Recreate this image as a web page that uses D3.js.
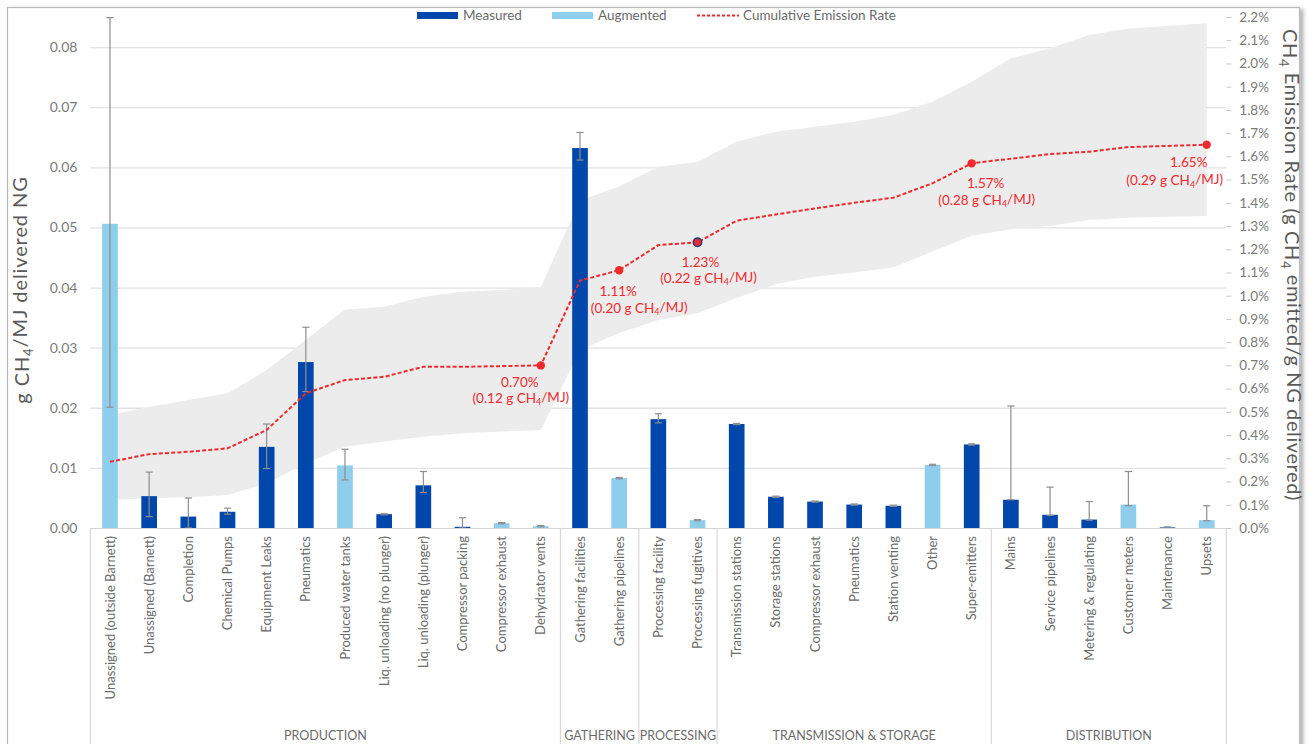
<!DOCTYPE html>
<html>
<head>
<meta charset="utf-8">
<script src="https://cdn.jsdelivr.net/npm/d3@7"></script>
<style>
  body { margin: 0; background: #ffffff; }
  svg text { font-family: Lato, "Open Sans", "DejaVu Sans", sans-serif; }
</style>
</head>
<body>
<svg id="chart" width="1309" height="744"></svg>
<script>
// ---- Data -------------------------------------------------------------
const categories = [
  "Unassigned (outside Barnett)", "Unassigned (Barnett)", "Completion", "Chemical Pumps",
  "Equipment Leaks", "Pneumatics", "Produced water tanks", "Liq. unloading (no plunger)",
  "Liq. unloading (plunger)", "Compressor packing", "Compressor exhaust", "Dehydrator vents",
  "Gathering facilities", "Gathering pipelines",
  "Processing facility", "Processing fugitives",
  "Transmission stations", "Storage stations", "Compressor exhaust", "Pneumatics",
  "Station venting", "Other", "Super-emitters",
  "Mains", "Service pipelines", "Metering & regulating", "Customer meters", "Maintenance", "Upsets"
];

const groupNames  = ["PRODUCTION", "GATHERING", "PROCESSING", "TRANSMISSION & STORAGE", "DISTRIBUTION"];
const groupSizes  = [12, 2, 2, 7, 6];

// M = measured, A = augmented
const source = [
  "A","M","M","M","M","M","A","M","M","M","A","A",
  "M","A",
  "M","A",
  "M","M","M","M","M","A","M",
  "M","M","M","A","M","A"
];

// g CH4 / MJ delivered NG
const emission = [
  0.0506, 0.0053, 0.0019, 0.0027, 0.0135, 0.0276, 0.0104, 0.0023, 0.0071, 0.0002, 0.0008, 0.0003,
  0.0632, 0.0083,
  0.0181, 0.0013,
  0.0173, 0.0052, 0.0044, 0.0039, 0.0037, 0.0105, 0.0139,
  0.0047, 0.0022, 0.0014, 0.0039, 0.0001, 0.0013
];
const emissionLow = [
  0.0201, 0.0019, 0.0000, 0.0023, 0.0099, 0.0227, 0.0080, 0.0022, 0.0059, 0.0000, 0.0007, 0.0002,
  0.0612, 0.0082,
  0.0175, 0.0012,
  0.0172, 0.0051, 0.0043, 0.0038, 0.0036, 0.0104, 0.0138,
  0.0047, 0.0021, 0.0013, 0.0037, 0.0000, 0.0012
];
const emissionHigh = [
  0.0849, 0.0093, 0.0050, 0.0033, 0.0173, 0.0334, 0.0131, 0.0024, 0.0094, 0.0017, 0.0009, 0.0004,
  0.0658, 0.0084,
  0.0190, 0.0014,
  0.0174, 0.0053, 0.0045, 0.0040, 0.0038, 0.0106, 0.0140,
  0.0203, 0.0068, 0.0044, 0.0094, 0.0002, 0.0037
];

// Cumulative emission rate, % of delivered NG
const cumulativeRate = [
  0.285, 0.318, 0.328, 0.343, 0.422, 0.58, 0.637, 0.651, 0.694, 0.694, 0.697, 0.70,
  1.065, 1.11,
  1.218, 1.23,
  1.323, 1.35, 1.376, 1.40, 1.422, 1.484, 1.57,
  1.59, 1.61, 1.62, 1.64, 1.645, 1.65
];
const rateLow = [
  0.121, 0.128, 0.132, 0.142, 0.192, 0.279, 0.35, 0.372, 0.393, 0.408, 0.415, 0.422,
  0.766, 0.839,
  0.895, 0.925,
  0.99, 1.05, 1.082, 1.10, 1.122, 1.19, 1.258,
  1.286, 1.301, 1.326, 1.336, 1.34, 1.343
];
const rateHigh = [
  0.486, 0.522, 0.551, 0.58, 0.68, 0.81, 0.941, 0.953, 0.996, 1.017, 1.025, 1.039,
  1.41, 1.47,
  1.555, 1.577,
  1.663, 1.706, 1.728, 1.749, 1.778, 1.835, 1.921,
  2.022, 2.065, 2.122, 2.151, 2.161, 2.173
];

// Labelled points on the cumulative curve
const calloutIndex = [11, 13, 15, 22, 28];
const calloutPct   = ["0.70%", "1.11%", "1.23%", "1.57%", "1.65%"];
const calloutGrams = ["0.12", "0.20", "0.22", "0.28", "0.29"];

const leftTicks  = [0.00, 0.01, 0.02, 0.03, 0.04, 0.05, 0.06, 0.07, 0.08];
const rightTicks = [0.0, 0.1, 0.2, 0.3, 0.4, 0.5, 0.6, 0.7, 0.8, 0.9, 1.0, 1.1,
                    1.2, 1.3, 1.4, 1.5, 1.6, 1.7, 1.8, 1.9, 2.0, 2.1, 2.2];

const legendItems = ["Measured", "Augmented", "Cumulative Emission Rate"];

// ---- Layout & style ---------------------------------------------------
const plot = { left: 90.4, right: 1226.3, top: 17, bottom: 528 };
const colors = {
  M: "#0047ab", A: "#8fcdec", line: "#ee2a2e", band: "#ececec",
  grid: "#e2e2e2", axis: "#d5d5d5", text: "#7a7a7a", title: "#5a5a5a", err: "#8e8e8e"
};
// label offsets (line 1, line 2) from each labelled point
const calloutOffsets = [
  [[-21, 17], [-20, 33]],
  [[-1, 21], [20, 38]],
  [[3, 20], [11, 36]],
  [[14, 20], [15, 37]],
  [[-18, 18], [-32, 36]]
];

const svg = d3.select("#chart");
const idx = d3.range(categories.length);

const x = d3.scaleBand().domain(idx).range([plot.left, plot.right])
  .paddingInner(0.6).paddingOuter(0.3);
const cx = i => x(i) + x.bandwidth() / 2;
const step = x.step();

const yL = d3.scaleLinear().domain([0, 0.085]).range([plot.bottom, plot.top]);
const yR = d3.scaleLinear().domain([0, 2.2]).range([plot.bottom, plot.top]);

// Outer frame with a soft shadow
const defs = svg.append("defs");
const sh = defs.append("filter").attr("id", "shadow").attr("x", "-5%").attr("y", "-5%")
  .attr("width", "110%").attr("height", "110%");
sh.append("feGaussianBlur").attr("in", "SourceAlpha").attr("stdDeviation", 2);
sh.append("feOffset").attr("dx", 3).attr("dy", 2).attr("result", "ob");
sh.append("feComponentTransfer").append("feFuncA").attr("type", "linear").attr("slope", 0.35);
const mg = sh.append("feMerge");
mg.append("feMergeNode");
mg.append("feMergeNode").attr("in", "SourceGraphic");

svg.append("rect")
  .attr("x", 7.5).attr("y", 7.5).attr("width", 1292).attr("height", 800)
  .attr("fill", "#ffffff").attr("stroke", "#b9b9b9").attr("stroke-width", 1.2)
  .attr("filter", "url(#shadow)");

// Gridlines (left axis)
svg.append("g")
  .attr("transform", `translate(${plot.left},0)`)
  .call(d3.axisLeft(yL).tickValues(leftTicks.slice(1)).tickSize(-(plot.right - plot.left)).tickFormat(""))
  .call(g => g.select(".domain").remove())
  .call(g => g.selectAll("line").attr("stroke", colors.grid).attr("stroke-width", 1.3));

// Uncertainty band of the cumulative rate
const band = d3.area()
  .x((d, i) => cx(i))
  .y0((d, i) => yR(rateLow[i]))
  .y1((d, i) => yR(rateHigh[i]));
svg.append("path").datum(idx).attr("d", band).attr("fill", colors.band);

// Bars
svg.append("g").selectAll("rect").data(idx).join("rect")
  .attr("x", i => x(i))
  .attr("width", x.bandwidth())
  .attr("y", i => yL(emission[i]))
  .attr("height", i => yL(0) - yL(emission[i]))
  .attr("fill", i => colors[source[i]]);

// Error bars
const eg = svg.append("g").attr("stroke", colors.err).attr("stroke-width", 1.2);
idx.forEach(i => {
  const c = cx(i), cap = 3.6;
  eg.append("line").attr("x1", c).attr("x2", c)
    .attr("y1", yL(emissionLow[i])).attr("y2", yL(emissionHigh[i]));
  eg.append("line").attr("x1", c - cap).attr("x2", c + cap)
    .attr("y1", yL(emissionHigh[i])).attr("y2", yL(emissionHigh[i]));
  eg.append("line").attr("x1", c - cap).attr("x2", c + cap)
    .attr("y1", yL(emissionLow[i])).attr("y2", yL(emissionLow[i]));
});

// Category axis line
svg.append("line")
  .attr("x1", plot.left).attr("x2", plot.right)
  .attr("y1", plot.bottom + 0.5).attr("y2", plot.bottom + 0.5)
  .attr("stroke", colors.axis).attr("stroke-width", 1.2);

// Left axis labels
svg.append("g")
  .attr("transform", `translate(${plot.left},0)`)
  .call(d3.axisLeft(yL).tickValues(leftTicks).tickSize(0).tickPadding(13).tickFormat(d3.format(".2f")))
  .call(g => g.select(".domain").remove())
  .call(g => g.selectAll("text").attr("fill", colors.text).style("font-size", "14px")
    .style("font-family", "Lato, 'Open Sans', sans-serif"));

// Right axis
svg.append("g")
  .attr("transform", `translate(${plot.right},0)`)
  .call(d3.axisRight(yR).tickValues(rightTicks).tickSize(5).tickPadding(8)
    .tickFormat(d => d.toFixed(1) + "%"))
  .call(g => g.select(".domain").remove())
  .call(g => g.selectAll("line").attr("stroke", "#c6c6c6"))
  .call(g => g.selectAll("text").attr("fill", colors.text).style("font-size", "13.5px")
    .style("font-family", "Lato, 'Open Sans', sans-serif"));

// Category labels
svg.append("g").selectAll("text").data(idx).join("text")
  .attr("transform", i => `translate(${cx(i)},${plot.bottom + 8}) rotate(-90)`)
  .attr("dy", "0.35em")
  .attr("text-anchor", "end")
  .attr("fill", "#6a6a6a")
  .style("font-size", "13px")
  .text(i => categories[i]);

// Group separators and names
const bounds = [0, ...d3.cumsum(groupSizes)];
svg.append("g").selectAll("line").data(bounds).join("line")
  .attr("x1", k => plot.left + k * step).attr("x2", k => plot.left + k * step)
  .attr("y1", plot.bottom).attr("y2", 744)
  .attr("stroke", colors.axis).attr("stroke-width", 1.1);
svg.append("g").selectAll("text").data(groupNames).join("text")
  .attr("x", (d, j) => plot.left + (bounds[j] + groupSizes[j] / 2) * step)
  .attr("y", 740)
  .attr("text-anchor", "middle")
  .attr("fill", "#6a6a6a")
  .style("font-size", "12.5px")
  .text(d => d);

// Cumulative emission rate line
const line = d3.line().x((d, i) => cx(i)).y(d => yR(d));
svg.append("path").datum(cumulativeRate)
  .attr("d", line)
  .attr("fill", "none")
  .attr("stroke", colors.line)
  .attr("stroke-width", 2)
  .attr("stroke-dasharray", "4 2.2");

// Labelled points
calloutIndex.forEach((i, k) => {
  const px = cx(i), py = yR(cumulativeRate[i]);
  svg.append("circle").attr("cx", px).attr("cy", py).attr("r", 4.2)
    .attr("fill", colors.line)
    .attr("stroke", k === 2 ? "#2a3f7a" : "none").attr("stroke-width", 1.6);
  const [o1, o2] = calloutOffsets[k];
  svg.append("text").attr("x", px + o1[0]).attr("y", py + o1[1]).attr("dy", "0.35em")
    .attr("text-anchor", "middle").attr("fill", colors.line).style("font-size", "13.5px")
    .text(calloutPct[k]);
  const t = svg.append("text").attr("x", px + o2[0]).attr("y", py + o2[1]).attr("dy", "0.35em")
    .attr("text-anchor", "middle").attr("fill", colors.line).style("font-size", "13.5px");
  t.append("tspan").text(`(${calloutGrams[k]} g CH`);
  t.append("tspan").attr("font-size", "9px").attr("dy", "0.25em").text("4");
  t.append("tspan").attr("dy", "-0.25em").text("/MJ)");
});

// Axis titles
const lt = svg.append("text")
  .attr("transform", "translate(29,290) rotate(-90)")
  .attr("text-anchor", "middle").attr("fill", colors.title)
  .style("font-size", "20px").style("letter-spacing", "0.9px");
lt.append("tspan").text("g CH");
lt.append("tspan").attr("font-size", "13px").attr("dy", "0.3em").text("4");
lt.append("tspan").attr("dy", "-0.3em").text("/MJ delivered NG");

const rt = svg.append("text")
  .attr("transform", "translate(1283,265) rotate(90)")
  .attr("text-anchor", "middle").attr("fill", colors.title)
  .style("font-size", "20px").style("letter-spacing", "0.6px");
rt.append("tspan").text("CH");
rt.append("tspan").attr("font-size", "13px").attr("dy", "0.3em").text("4");
rt.append("tspan").attr("dy", "-0.3em").text(" Emission Rate (g CH");
rt.append("tspan").attr("font-size", "13px").attr("dy", "0.3em").text("4");
rt.append("tspan").attr("dy", "-0.3em").text(" emitted/g NG delivered)");

// Legend
const lg = svg.append("g");
const legendX = [417, 552, 697];
lg.append("rect").attr("x", legendX[0]).attr("y", 12).attr("width", 41).attr("height", 7).attr("fill", colors.M);
lg.append("rect").attr("x", legendX[1]).attr("y", 12).attr("width", 41).attr("height", 7).attr("fill", colors.A);
lg.append("line").attr("x1", legendX[2]).attr("x2", legendX[2] + 42).attr("y1", 15.5).attr("y2", 15.5)
  .attr("stroke", colors.line).attr("stroke-width", 2).attr("stroke-dasharray", "3 2");
legendItems.forEach((name, k) => {
  lg.append("text").attr("x", legendX[k] + 46).attr("y", 15.5).attr("dy", "0.35em")
    .attr("fill", "#6a6a6a").style("font-size", "13.5px").text(name);
});
</script>
</body>
</html>
